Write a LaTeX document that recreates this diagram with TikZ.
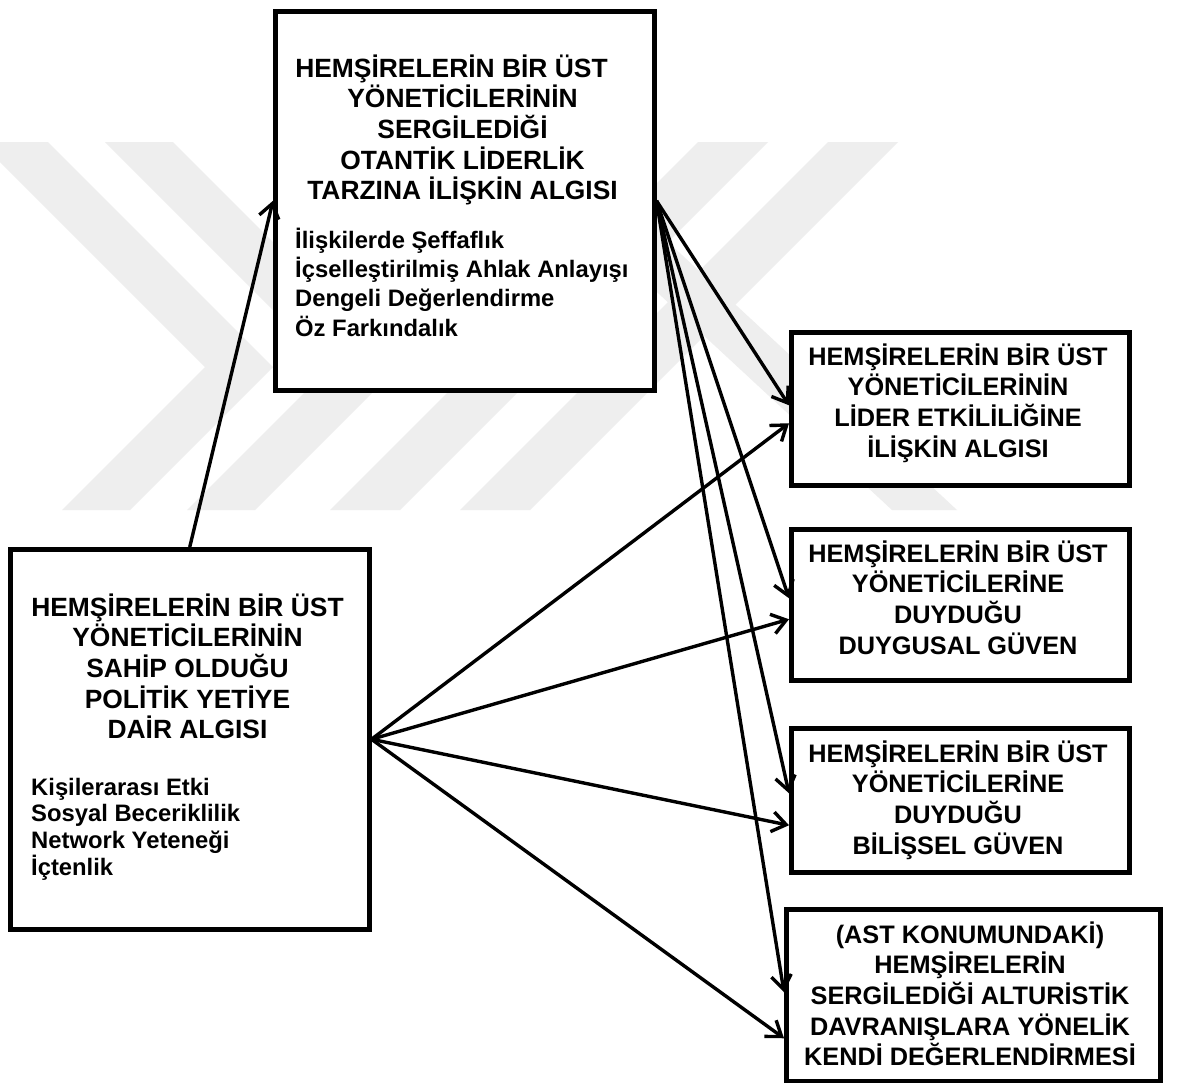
\documentclass[tikz,border=0pt]{standalone}
\usepackage{fontspec}
\setmainfont{Liberation Sans}
\usetikzlibrary{arrows.meta}

% stacked lines with a fixed baseline distance; the baseline of the block is that of its first line
\newcommand{\centredlines}[1]{\vtop{\lineskiplimit=-100pt\lineskip=0pt\halign{\hfil##\hfil\cr#1\crcr}}}
\newcommand{\leftlines}[1]{\vtop{\lineskiplimit=-100pt\lineskip=0pt\halign{##\hfil\cr#1\crcr}}}

\definecolor{markgray}{gray}{0.935}

\begin{document}
\begin{tikzpicture}[x=1pt,y=-1pt,
  frame/.style={draw=black, line width=4.5pt, fill=white, inner sep=0pt, anchor=north west},
  heading/.style={inner sep=0pt, anchor=base, font=\fontsize{26.4}{30.7}\selectfont\bfseries},
  sideheading/.style={inner sep=0pt, anchor=base, font=\fontsize{25.3}{30.7}\selectfont\bfseries},
  itemlist/.style={inner sep=0pt, anchor=base west, font=\fontsize{23.8}{29.4}\selectfont\bfseries},
  conn/.style={draw=black, line width=3.4pt, -{Straight Barb[length=14pt,width=20pt]}}
]
\useasboundingbox (0,0) rectangle (1186,1082);
\fill[white] (0,0) rectangle (1186,1082);

% faint background emblem: two chevrons and slanted bars
\begin{scope}[fill=markgray]
  \fill (-20,142) -- (48,142) -- (273,367) -- (130,510) -- (62,510) -- (205,367) -- cycle;
  \fill (105,142) -- (173,142) -- (398,367) -- (255,510) -- (187,510) -- (330,367) -- cycle;
  \fill (330,510) -- (400,510) -- (768,142) -- (698,142) -- cycle;
  \fill (460,510) -- (530,510) -- (898,142) -- (828,142) -- cycle;
  \fill (590,230) -- (655,230) -- (957,510) -- (892,510) -- cycle;
\end{scope}

% boxes
\node[frame, minimum width=379pt, minimum height=379pt] (T) at (273,9) {};
\node[frame, minimum width=359pt, minimum height=380pt] (L) at (8,547) {};
\node[frame, minimum width=338pt, minimum height=153pt] (B1) at (789,330) {};
\node[frame, minimum width=338pt, minimum height=151pt] (B2) at (789,527) {};
\node[frame, minimum width=338pt, minimum height=144pt] (B3) at (789,726) {};
\node[frame, minimum width=374pt, minimum height=172pt] (B4) at (784,907) {};

% texts
\node[heading] (Ttitle) at (462.5,77) {\centredlines{%
  HEMŞİRELERİN BİR ÜST\hskip22pt\cr
  YÖNETİCİLERİNİN\cr
  SERGİLEDİĞİ\cr
  OTANTİK LİDERLİK\cr
  TARZINA İLİŞKİN ALGISI}};
\node[itemlist, font=\fontsize{23.8}{29.4}\selectfont\bfseries] (Titems) at (295,248) {\leftlines{%
  İlişkilerde Şeffaflık\cr
  İçselleştirilmiş Ahlak Anlayışı\cr
  Dengeli Değerlendirme\cr
  Öz Farkındalık}};

\node[heading] (Ltitle) at (187.5,616) {\centredlines{%
  HEMŞİRELERİN BİR ÜST\cr
  YÖNETİCİLERİNİN\cr
  SAHİP OLDUĞU\cr
  POLİTİK YETİYE\cr
  DAİR ALGISI}};
\node[itemlist, font=\fontsize{23.8}{26.7}\selectfont\bfseries] (Litems) at (31,795) {\leftlines{%
  Kişilerarası Etki\cr
  Sosyal Beceriklilik\cr
  Network Yeteneği\cr
  İçtenlik}};

\node[sideheading] (B1title) at (958,365) {\centredlines{%
  HEMŞİRELERİN BİR ÜST\cr
  YÖNETİCİLERİNİN\cr
  LİDER ETKİLİLİĞİNE\cr
  İLİŞKİN ALGISI}};
\node[sideheading] (B2title) at (958,562) {\centredlines{%
  HEMŞİRELERİN BİR ÜST\cr
  YÖNETİCİLERİNE\cr
  DUYDUĞU\cr
  DUYGUSAL GÜVEN}};
\node[sideheading] (B3title) at (958,762) {\centredlines{%
  HEMŞİRELERİN BİR ÜST\cr
  YÖNETİCİLERİNE\cr
  DUYDUĞU\cr
  BİLİŞSEL GÜVEN}};
\node[sideheading] (B4title) at (970,943) {\centredlines{%
  (AST KONUMUNDAKİ)\cr
  HEMŞİRELERİN\cr
  SERGİLEDİĞİ ALTURİSTİK\cr
  DAVRANIŞLARA YÖNELİK\cr
  KENDİ DEĞERLENDİRMESİ}};

% connectors
\draw[conn] (L.north) -- (T.west);

\draw[conn] (T.east) -- ([yshift=3.5pt]B1.west);
\draw[conn] (T.east) -- ([yshift=6.5pt]B2.west);
\draw[conn] (T.east) -- ([yshift=7pt]B3.west);
\draw[conn] (T.east) -- ([yshift=3pt]B4.west);

\draw[conn] (L.east) -- ([yshift=-14.5pt]B1.west);
\draw[conn] (L.east) -- ([yshift=-14.5pt]B2.west);
\draw[conn] (L.east) -- ([yshift=-25pt]B3.west);
\draw[conn] (L.east) -- ([yshift=-43pt]B4.west);
\end{tikzpicture}
\end{document}
